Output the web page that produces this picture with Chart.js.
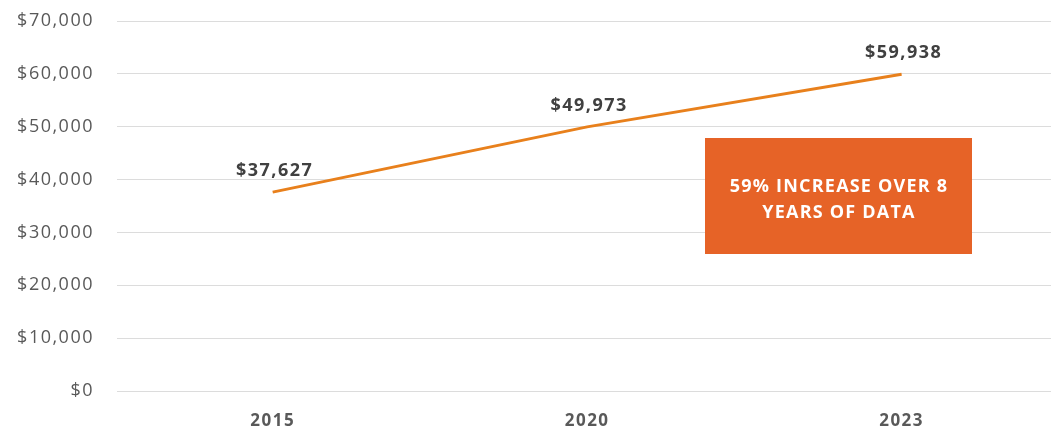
<!DOCTYPE html>
<html>
<head>
<meta charset="utf-8">
<script src="https://cdn.jsdelivr.net/npm/chart.js@4"></script>
<style>
  html, body { margin: 0; padding: 0; background: #fff; }
  #wrap { width: 1051px; height: 430px; }
</style>
</head>
<body>
<div id="wrap"><canvas id="incomeChart" width="1051" height="430"></canvas></div>
<script>
// values
const years = ['2015', '2020', '2023'];
const incomes = [37627, 49973, 59938];
const yTicks = [0, 10000, 20000, 30000, 40000, 50000, 60000, 70000];
const noteLines = ['59% INCREASE OVER 8', 'YEARS OF DATA'];

const FONT = "'Open Sans', Lato, sans-serif";
const fmt = v => '$' + v.toLocaleString('en-US');

// the original font is wide, so space the letters out a bit
const spacing = {
    id: 'spacing',
    beforeDraw(chart) {
        chart.ctx.letterSpacing = '1.5px';
    }
};

// value labels above each point
const valueLabels = {
    id: 'valueLabels',
    afterDatasetsDraw(chart) {
        const c = chart.ctx;
        const meta = chart.getDatasetMeta(0);
        c.save();
        c.letterSpacing = '1.5px';
        c.font = 'bold 18px ' + FONT;
        c.fillStyle = '#404040';
        c.textAlign = 'center';
        c.textBaseline = 'middle';
        meta.data.forEach((pt, i) => {
            c.fillText(fmt(incomes[i]), pt.x + 2, pt.y - 21);
        });
        c.restore();
    }
};

// orange call-out box
const noteBox = {
    id: 'noteBox',
    afterDraw(chart) {
        const c = chart.ctx;
        c.save();
        c.letterSpacing = '1.2px';
        c.fillStyle = '#E66327';
        c.fillRect(705, 138, 267, 116);
        c.font = 'bold 18px ' + FONT;
        c.fillStyle = '#fff';
        c.textAlign = 'center';
        c.textBaseline = 'middle';
        noteLines.forEach((t, i) => c.fillText(t, 839, 187 + i * 26));
        c.restore();
    }
};

const ctx = document.getElementById('incomeChart').getContext('2d');

new Chart(ctx, {
    type: 'line',
    data: {
        datasets: [{
            data: incomes.map((v, i) => ({ x: i, y: v })),
            borderColor: '#E8801C',
            borderWidth: 3,
            pointRadius: 0,
            tension: 0,
            fill: false
        }]
    },
    options: {
        responsive: false,
        animation: false,
        layout: { padding: { top: 21, right: 0, bottom: 0, left: 0 } },
        plugins: {
            legend: { display: false },
            tooltip: { enabled: false }
        },
        scales: {
            x: {
                type: 'linear',
                min: -0.495,
                max: 2.475,
                afterBuildTicks: s => { s.ticks = years.map((_, i) => ({ value: i })); },
                afterFit: s => { s.height = 39; },
                ticks: {
                    callback: v => years[v],
                    color: '#595959',
                    font: { family: FONT, size: 17, weight: 'bold' },
                    padding: 12,
                    maxRotation: 0
                },
                grid: { display: false },
                border: { display: false }
            },
            y: {
                min: 0,
                max: 70000,
                afterBuildTicks: s => { s.ticks = yTicks.map(v => ({ value: v })); },
                afterFit: s => { s.width = 117; s.paddingTop = 0; s.paddingBottom = 0; },
                ticks: {
                    callback: v => fmt(v),
                    color: '#595959',
                    font: { family: FONT, size: 18, weight: '400' },
                    padding: 23
                },
                grid: { color: '#DCDCDC', lineWidth: 1, drawTicks: false },
                border: { display: false }
            }
        }
    },
    plugins: [spacing, valueLabels, noteBox]
});
</script>
</body>
</html>
